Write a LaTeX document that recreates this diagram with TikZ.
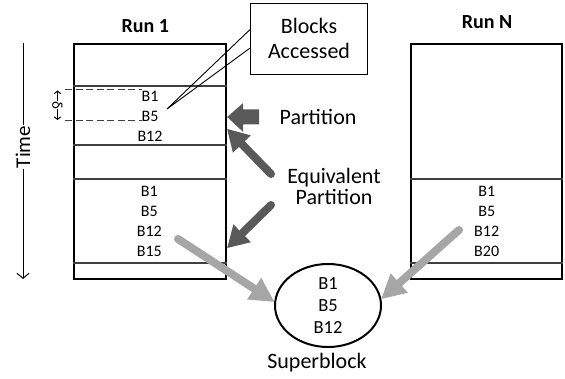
\documentclass[tikz,border=0pt]{standalone}
\usepackage{fontspec}
\setmainfont{Carlito}
\usetikzlibrary{arrows.meta,calc,shapes.geometric}
\definecolor{darkarrow}{HTML}{595959}
\definecolor{lightarrow}{HTML}{A6A6A6}
\definecolor{innerline}{HTML}{3F3F3F}
\begin{document}
\begin{tikzpicture}[x=1pt,y=-1pt,
  runbox/.style={draw=black,line width=2.4pt,minimum width=152pt,minimum height=235pt,inner sep=0pt},
  sepline/.style={draw=innerline,line width=1.1pt},
  blab/.style={font=\fontsize{16}{19}\selectfont,inner sep=0pt},
  bigtext/.style={font=\fontsize{22}{25}\selectfont,inner sep=0pt,align=center},
  runtitle/.style={font=\bfseries\fontsize{20}{24}\selectfont,inner sep=0pt,anchor=base},
  eqarrow/.style={draw=darkarrow,line width=8pt,line cap=round,-{Triangle[length=21pt,width=25pt,line width=0pt]}},
  sbarrow/.style={draw=lightarrow,line width=8pt,line cap=round,-{Triangle[length=24pt,width=26pt,line width=0pt]}},
  dashline/.style={draw=innerline,line width=1pt,dash pattern=on 7pt off 3.5pt},
]
\useasboundingbox (0,0) rectangle (565,379);

% run boxes
\node[runbox] (run1) at (150,161.5) {};
\node[runbox,minimum width=151pt] (runN) at (486.5,161.5) {};

\foreach \yy in {86,145,179,263}
  \draw[sepline] (run1.west |- 0,\yy) -- (run1.east |- 0,\yy);
\foreach \yy in {179,263}
  \draw[sepline] (runN.west |- 0,\yy) -- (runN.east |- 0,\yy);

% titles
\node[runtitle] (t1) at (145.3,33) {Run 1};
\node[runtitle] (tN) at (487,28.3) {Run N};

% block labels run 1
\node[blab] (a1) at (150,96.7) {B1};
\node[blab] (a5) at (150,116.7) {B5};
\node[blab] (a12) at (150,136.7) {B12};
\node[blab] (b1) at (149.3,191.7) {B1};
\node[blab] (b5) at (149.3,211.7) {B5};
\node[blab] (b12) at (149.3,231.7) {B12};
\node[blab] (b15) at (149.3,251.7) {B15};
% block labels run N
\node[blab] (n1) at (486.7,191.7) {B1};
\node[blab] (n5) at (486.7,211.7) {B5};
\node[blab] (n12) at (486.7,231.7) {B12};
\node[blab] (n20) at (486.7,251.7) {B20};

% delta marks
\draw[dashline] (65,90) -- (142,90);
\draw[dashline] (65,120.5) -- (142,120.5);
\node[rotate=-90,font=\fontsize{15}{18}\selectfont,inner sep=0.3pt] (delta) at (57.5,105) {δ};
\coordinate (dtop) at (57.5,90.5);
\coordinate (dbot) at (57.5,120);
\draw[line width=1pt,-{Straight Barb[length=2.5pt,width=6.5pt]}] (delta.west) -- (dtop);
\draw[line width=1pt,-{Straight Barb[length=2.5pt,width=6.5pt]}] (delta.east) -- (dbot);

% time axis
\node[rotate=90,font=\fontsize{21}{24}\selectfont,inner sep=0.8pt] (time) at (23,147) {Time};
\coordinate (ttop) at (23,43);
\coordinate (tbot) at (23,279);
\draw[line width=1pt] (ttop) -- (time.east);
\draw[line width=1pt,-{Straight Barb[length=5pt,width=12pt]}] (time.west) -- (tbot);

% blocks accessed callout
\node[draw=black,line width=1.3pt,minimum width=117pt,minimum height=71pt,bigtext] (ba) at (309,38.7) {Blocks\\[0pt]Accessed};
\coordinate (cpt) at (167,109);
\draw[line width=0.9pt] ($(ba.west)+(0,-9)$) -- (cpt) -- ($(ba.west)+(0,9.5)$);

% partition
\node[bigtext] (part) at (318,117) {Partition};
\coordinate (ptip) at (run1.east |- 0,117);
\fill[darkarrow] (ptip) -- ++(16,-14) -- ++(0,6.5) -- ++(16,0) -- ++(0,15) -- ++(-16,0) -- ++(0,7.5) -- cycle;

% equivalent partition
\node[bigtext,font=\fontsize{22}{21}\selectfont] (eqp) at (334,186.5) {Equivalent\\Partition};
\coordinate (eqt1) at (271,174);
\coordinate (eqt2) at (271,205);
\draw[eqarrow] (eqt1) -- (run1.east |- 0,129);
\draw[eqarrow] (eqt2) -- (run1.east |- 0,248);

% superblock
\node[draw=black,line width=2pt,ellipse,minimum width=106pt,minimum height=83pt,inner sep=0pt,align=center,font=\fontsize{18.5}{22}\selectfont] (sb) at (328,305.5) {B1\\B5\\B12};
\node[bigtext,anchor=base] (sbl) at (317,368.7) {Superblock};

\coordinate (sa) at (178,239);
\coordinate (sn) at (459,230);
\draw[sbarrow] (sa) -- (sb.176);
\draw[sbarrow] (sn) -- (sb.7);
\end{tikzpicture}
\end{document}
